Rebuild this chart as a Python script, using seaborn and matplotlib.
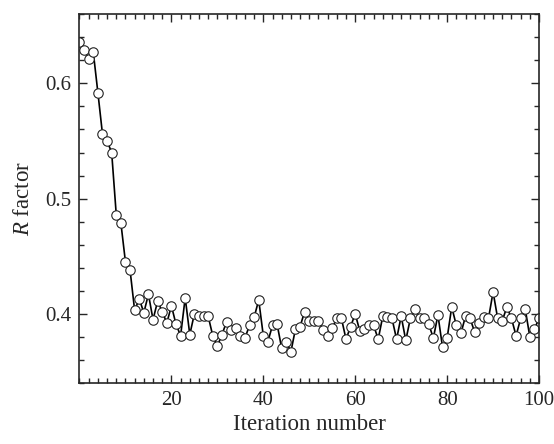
import numpy as np
import pandas as pd
import seaborn as sns
from matplotlib import pyplot as plt
from matplotlib.ticker import MultipleLocator

# R factor, iteration 0..100
iteration = np.arange(0, 101)
r_factor = [
    0.636, 0.629, 0.621, 0.627, 0.592, 0.556, 0.550, 0.540, 0.486, 0.479,
    0.445, 0.438, 0.403, 0.413, 0.401, 0.417, 0.395, 0.411, 0.402, 0.392,
    0.407, 0.391, 0.381, 0.414, 0.382, 0.400, 0.398, 0.398, 0.398, 0.381,
    0.372, 0.382, 0.393, 0.386, 0.388, 0.381, 0.379, 0.390, 0.397, 0.412,
    0.381, 0.376, 0.390, 0.391, 0.370, 0.376, 0.367, 0.387, 0.389, 0.402,
    0.394, 0.394, 0.394, 0.386, 0.381, 0.388, 0.396, 0.396, 0.378, 0.389,
    0.400, 0.385, 0.387, 0.390, 0.390, 0.378, 0.398, 0.397, 0.396, 0.378,
    0.398, 0.377, 0.396, 0.404, 0.396, 0.396, 0.391, 0.379, 0.399, 0.371,
    0.379, 0.406, 0.390, 0.383, 0.398, 0.396, 0.384, 0.392, 0.397, 0.396,
    0.419, 0.396, 0.394, 0.406, 0.396, 0.381, 0.396, 0.404, 0.380, 0.387,
    0.396,
]
x_ticks = [20, 40, 60, 80, 100]
y_ticks = [0.4, 0.5, 0.6]

df = pd.DataFrame({'iteration': iteration, 'r': r_factor})

sns.set_style('ticks')
plt.rcParams['font.family'] = ['Liberation Serif', 'DejaVu Serif']
plt.rcParams['mathtext.fontset'] = 'custom'
plt.rcParams['mathtext.rm'] = 'Liberation Serif'
plt.rcParams['mathtext.it'] = 'Liberation Serif:italic'

fig = plt.figure(figsize=(5.54, 4.44), dpi=100)
ax = fig.add_axes([0.1435, 0.1374, 0.8295, 0.8306])

sns.lineplot(data=df, x='iteration', y='r', ax=ax, color='black', lw=1.2,
             marker='o', markersize=6.8, markerfacecolor='white',
             markeredgecolor='#222222', markeredgewidth=0.8)

ax.set_xlim(0, 100)
ax.set_ylim(0.34, 0.66)
ax.set_xticks(x_ticks)
ax.set_yticks(y_ticks)
ax.xaxis.set_minor_locator(MultipleLocator(2))
ax.yaxis.set_minor_locator(MultipleLocator(0.02))
ax.tick_params(which='both', direction='in', top=True, right=True,
               labelsize=15, width=1.0, pad=6)
ax.tick_params(which='major', length=6)
ax.tick_params(which='minor', length=3.5)
for s in ax.spines.values():
    s.set_linewidth(1.2)
    s.set_visible(True)

ax.set_xlabel('Iteration number', fontsize=16.5, labelpad=3)
ax.set_ylabel(r'$R$ factor', fontsize=16.5, labelpad=8)

fig.savefig('out.png', dpi=100)
